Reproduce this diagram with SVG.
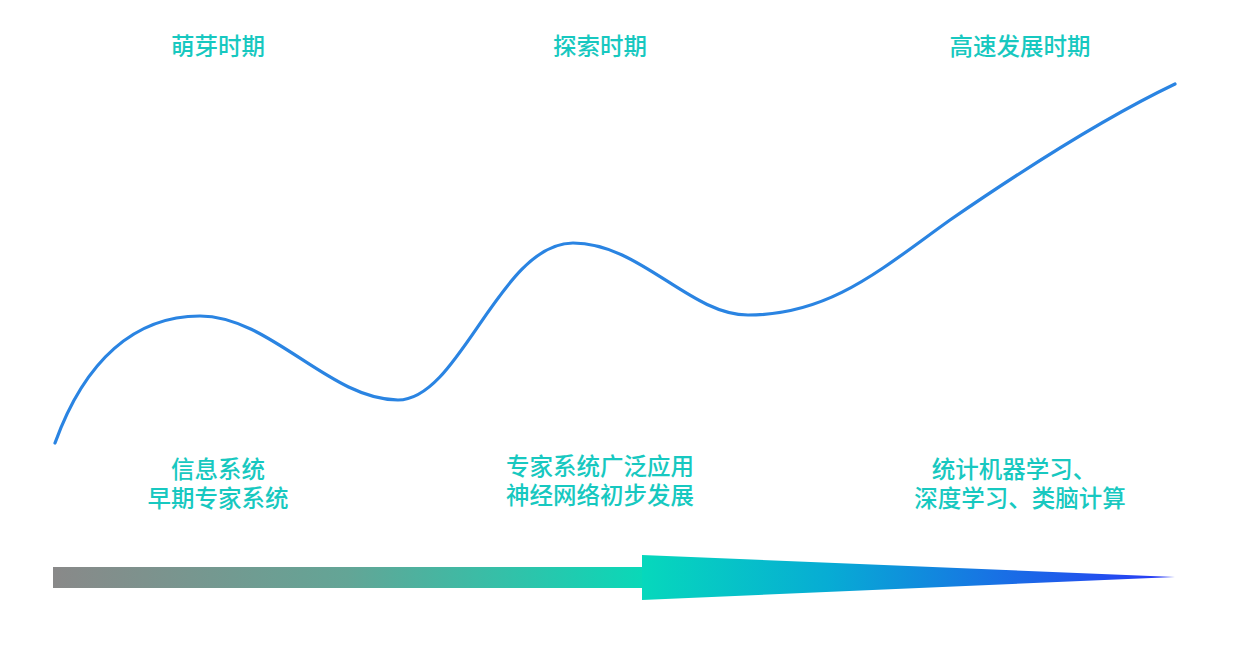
<svg xmlns="http://www.w3.org/2000/svg" width="1244" height="652" viewBox="0 0 1244 652">
  <defs>
    <linearGradient id="barGrad" gradientUnits="userSpaceOnUse" x1="53" y1="0" x2="642" y2="0">
      <stop offset="0" stop-color="#898989"/>
      <stop offset="0.5" stop-color="#63a596"/>
      <stop offset="1" stop-color="#0ad8b8"/>
    </linearGradient>
    <linearGradient id="headGrad" gradientUnits="userSpaceOnUse" x1="642" y1="0" x2="1175" y2="0">
      <stop offset="0" stop-color="#06d8bc"/>
      <stop offset="0.35" stop-color="#07acd4"/>
      <stop offset="0.7" stop-color="#1a6be6"/>
      <stop offset="1" stop-color="#2a38f6"/>
    </linearGradient>
    <style>
      .t { font-family: "Noto Sans CJK SC", "Noto Sans", sans-serif; font-size: 23.5px; font-weight: 500; fill: #17c8c0; text-anchor: middle; }
      .curve { fill: none; stroke: #2a84e2; stroke-width: 3.2; stroke-linecap: round; }
    </style>
  </defs>
  <rect width="1244" height="652" fill="#ffffff"/>

  <g id="connectors">
    <path id="growth-curve" class="curve" d="M55,443 C85,360 135,316 200,316 C270,316 330,400 398,400 C460,400 500,243 573,243 C640,243 690,315 748,315 C830,315 880,270 950,220 C1030,165 1110,115 1175,84"/>
  </g>

  <g id="timeline-arrow">
    <rect x="53" y="567" width="590" height="21" fill="url(#barGrad)"/>
    <polygon points="642,555 1175,577 642,600" fill="url(#headGrad)"/>
  </g>

  <g id="stage1">
    <text class="t" x="218" y="55">萌芽时期</text>
    <text class="t" x="218" y="478">信息系统</text>
    <text class="t" x="218" y="507">早期专家系统</text>
  </g>
  <g id="stage2">
    <text class="t" x="600" y="55">探索时期</text>
    <text class="t" x="600" y="475">专家系统广泛应用</text>
    <text class="t" x="600" y="504">神经网络初步发展</text>
  </g>
  <g id="stage3">
    <text class="t" x="1020" y="55">高速发展时期</text>
    <text class="t" x="1014" y="478">统计机器学习、</text>
    <text class="t" x="1020" y="507">深度学习、类脑计算</text>
  </g>
</svg>
